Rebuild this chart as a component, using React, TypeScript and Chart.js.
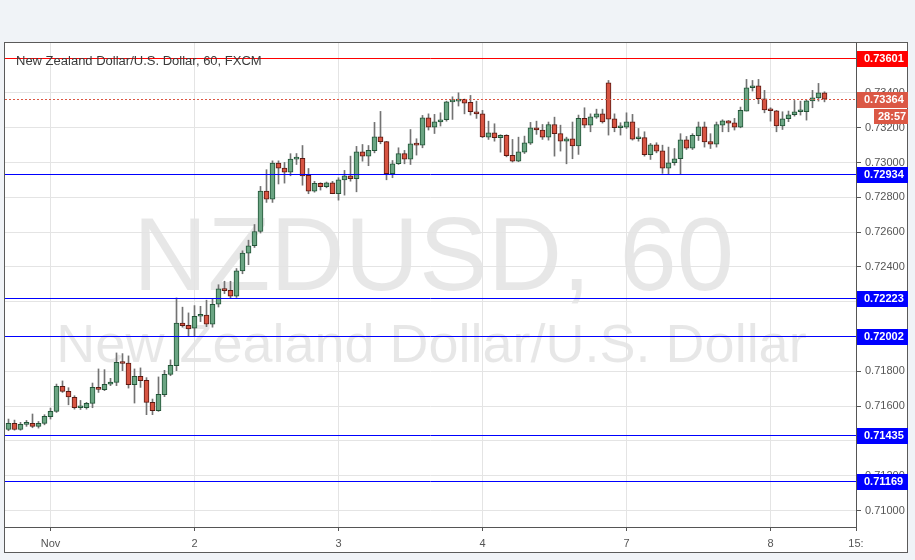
import React, { useEffect, useRef } from 'react';
import { Chart, registerables } from 'chart.js';

Chart.register(...registerables);

// ---- Data (hourly candles, NZDUSD 60, FXCM) ----
const opens = [
  0.71466, 0.71501, 0.71466, 0.71495, 0.71501, 0.71484, 0.71501, 0.71539, 0.71570, 0.71714,
  0.71685, 0.71651, 0.71591, 0.71591, 0.71616, 0.71708, 0.71695, 0.71726, 0.71737, 0.71852,
  0.71847, 0.71724, 0.71772, 0.71749, 0.71622, 0.71574, 0.71666, 0.71783, 0.71833, 0.72077,
  0.72065, 0.72048, 0.72117, 0.72124, 0.72071, 0.72186, 0.72272, 0.72266, 0.72232, 0.72378,
  0.72480, 0.72522, 0.72604, 0.72836, 0.72790, 0.72997, 0.72968, 0.72945, 0.73020, 0.73024,
  0.72926, 0.72836, 0.72880, 0.72861, 0.72884, 0.72821, 0.72901, 0.72924, 0.72907, 0.73062,
  0.73037, 0.73068, 0.73148, 0.73120, 0.72936, 0.72993, 0.73051, 0.73020, 0.73108, 0.73100,
  0.73257, 0.73204, 0.73234, 0.73246, 0.73349, 0.73353, 0.73363, 0.73346, 0.73292, 0.73280,
  0.73146, 0.73171, 0.73143, 0.73156, 0.73041, 0.73008, 0.73060, 0.73112, 0.73200, 0.73187,
  0.73146, 0.73219, 0.73166, 0.73123, 0.73137, 0.73095, 0.73254, 0.73215, 0.73261, 0.73280,
  0.73459, 0.73252, 0.73200, 0.73204, 0.73234, 0.73137, 0.73143, 0.73045, 0.73102, 0.73068,
  0.72968, 0.72999, 0.73022, 0.73131, 0.73083, 0.73154, 0.73206, 0.73120, 0.73106, 0.73215,
  0.73240, 0.73229, 0.73204, 0.73296, 0.73430, 0.73441, 0.73367, 0.73305, 0.73298, 0.73210,
  0.73252, 0.73275, 0.73292, 0.73292, 0.73355, 0.73372, 0.73401,
];
const highs = [
  0.71526, 0.71520, 0.71507, 0.71518, 0.71555, 0.71512, 0.71551, 0.71589, 0.71727, 0.71745,
  0.71706, 0.71660, 0.71633, 0.71622, 0.71733, 0.71814, 0.71810, 0.71760, 0.71906, 0.71902,
  0.71889, 0.71814, 0.71820, 0.71764, 0.71641, 0.71768, 0.71806, 0.71866, 0.72222, 0.72169,
  0.72136, 0.72178, 0.72174, 0.72209, 0.72216, 0.72298, 0.72318, 0.72318, 0.72391, 0.72493,
  0.72554, 0.72644, 0.72863, 0.72959, 0.73010, 0.73010, 0.73001, 0.73051, 0.73052, 0.73098,
  0.72966, 0.72892, 0.72884, 0.72888, 0.72892, 0.72913, 0.72955, 0.73037, 0.73093, 0.73104,
  0.73098, 0.73231, 0.73294, 0.73122, 0.73012, 0.73085, 0.73070, 0.73190, 0.73137, 0.73271,
  0.73280, 0.73277, 0.73286, 0.73353, 0.73378, 0.73401, 0.73365, 0.73386, 0.73353, 0.73300,
  0.73238, 0.73223, 0.73160, 0.73160, 0.73133, 0.73146, 0.73152, 0.73231, 0.73238, 0.73219,
  0.73233, 0.73261, 0.73215, 0.73146, 0.73233, 0.73273, 0.73315, 0.73280, 0.73307, 0.73307,
  0.73472, 0.73280, 0.73229, 0.73286, 0.73277, 0.73196, 0.73177, 0.73110, 0.73114, 0.73100,
  0.73089, 0.73081, 0.73166, 0.73150, 0.73166, 0.73233, 0.73233, 0.73166, 0.73233, 0.73246,
  0.73242, 0.73254, 0.73319, 0.73478, 0.73472, 0.73478, 0.73415, 0.73315, 0.73300, 0.73292,
  0.73296, 0.73357, 0.73353, 0.73359, 0.73415, 0.73455, 0.73407,
];
const lows = [
  0.71459, 0.71462, 0.71462, 0.71484, 0.71476, 0.71474, 0.71493, 0.71526, 0.71564, 0.71679,
  0.71608, 0.71583, 0.71581, 0.71583, 0.71591, 0.71679, 0.71689, 0.71718, 0.71718, 0.71804,
  0.71704, 0.71618, 0.71708, 0.71551, 0.71551, 0.71570, 0.71655, 0.71775, 0.71804, 0.72054,
  0.72002, 0.72002, 0.72086, 0.72057, 0.72054, 0.72170, 0.72247, 0.72220, 0.72225, 0.72361,
  0.72413, 0.72512, 0.72595, 0.72771, 0.72771, 0.72877, 0.72882, 0.72924, 0.72989, 0.72870,
  0.72821, 0.72830, 0.72842, 0.72855, 0.72821, 0.72784, 0.72813, 0.72893, 0.72832, 0.73008,
  0.72982, 0.73056, 0.73108, 0.72901, 0.72913, 0.72989, 0.72993, 0.72989, 0.73043, 0.73085,
  0.73187, 0.73167, 0.73210, 0.73238, 0.73248, 0.73325, 0.73280, 0.73273, 0.73254, 0.73143,
  0.73133, 0.73123, 0.73060, 0.73033, 0.73003, 0.73005, 0.73052, 0.73104, 0.73162, 0.73133,
  0.73129, 0.73037, 0.73066, 0.72993, 0.73022, 0.73047, 0.73200, 0.73177, 0.73254, 0.73227,
  0.73158, 0.73177, 0.73158, 0.73196, 0.73129, 0.73123, 0.73037, 0.73018, 0.73056, 0.72938,
  0.72932, 0.72985, 0.72932, 0.73075, 0.73075, 0.73127, 0.73089, 0.73081, 0.73089, 0.73177,
  0.73177, 0.73187, 0.73200, 0.73296, 0.73411, 0.73338, 0.73286, 0.73238, 0.73177, 0.73190,
  0.73235, 0.73267, 0.73273, 0.73244, 0.73315, 0.73353, 0.73349,
];
const closes = [
  0.71501, 0.71466, 0.71495, 0.71501, 0.71484, 0.71501, 0.71541, 0.71570, 0.71714, 0.71685,
  0.71653, 0.71591, 0.71595, 0.71616, 0.71708, 0.71697, 0.71726, 0.71739, 0.71852, 0.71845,
  0.71724, 0.71772, 0.71747, 0.71622, 0.71574, 0.71668, 0.71783, 0.71835, 0.72077, 0.72062,
  0.72044, 0.72117, 0.72124, 0.72071, 0.72186, 0.72274, 0.72264, 0.72232, 0.72378, 0.72480,
  0.72522, 0.72604, 0.72836, 0.72790, 0.72997, 0.72968, 0.72945, 0.73020, 0.73024, 0.72924,
  0.72836, 0.72880, 0.72861, 0.72884, 0.72821, 0.72901, 0.72924, 0.72907, 0.73062, 0.73037,
  0.73070, 0.73148, 0.73120, 0.72936, 0.72993, 0.73051, 0.73020, 0.73108, 0.73100, 0.73257,
  0.73204, 0.73234, 0.73246, 0.73349, 0.73353, 0.73363, 0.73342, 0.73292, 0.73280, 0.73148,
  0.73171, 0.73143, 0.73156, 0.73039, 0.73008, 0.73062, 0.73114, 0.73200, 0.73187, 0.73146,
  0.73219, 0.73166, 0.73123, 0.73137, 0.73095, 0.73254, 0.73215, 0.73263, 0.73280, 0.73234,
  0.73250, 0.73200, 0.73208, 0.73234, 0.73135, 0.73144, 0.73045, 0.73102, 0.73066, 0.72968,
  0.72999, 0.73022, 0.73131, 0.73083, 0.73156, 0.73206, 0.73118, 0.73106, 0.73219, 0.73240,
  0.73227, 0.73204, 0.73300, 0.73430, 0.73441, 0.73367, 0.73302, 0.73298, 0.73210, 0.73252,
  0.73275, 0.73292, 0.73294, 0.73355, 0.73372, 0.73401, 0.73364,
];

const xTickIdx = [7, 31, 55, 79, 103, 127];
const xTickLabels = ['Nov', '2', '3', '4', '7', '8'];
const xEndLabel = '15:';
const yTickValues = [0.710, 0.712, 0.714, 0.716, 0.718, 0.720, 0.722, 0.724, 0.726, 0.728, 0.730, 0.732, 0.734, 0.736];

const resistanceLevels = [0.73601];
const supportLevels = [0.72934, 0.72223, 0.72002, 0.71435, 0.71169];
const lastPrice = 0.73364;
const countdownText = '28:57';
const watermarkSymbol = 'NZDUSD, 60';
const watermarkName = 'New Zealand Dollar/U.S. Dollar';
const chartTitle = 'New Zealand Dollar/U.S. Dollar, 60, FXCM';

// ---- Styles ----
const X_MIN = -0.5833;
const X_MAX = 141.25;
const Y_MIN = 0.709056;
const Y_MAX = 0.736872;
const FONT = '"Liberation Sans", Arial, sans-serif';
const GREEN_FILL = '#6ba583';
const GREEN_EDGE = '#225437';
const RED_FILL = '#d75442';
const RED_EDGE = '#5b1a13';
const WICK = '#737373';
const BLUE = '#0000ff';
const RED = '#ff0000';
const LAST_COLOR = '#db5845';

const decorPlugin = {
  id: 'decor',
  beforeDraw(chart: any) {
    const { ctx, chartArea: a, width, height } = chart;
    ctx.save();
    ctx.fillStyle = '#f0f3f7';
    ctx.fillRect(0, 0, width, height);
    ctx.fillStyle = '#ffffff';
    ctx.fillRect(4, 42, 904, 511);
    ctx.strokeStyle = '#5a5a5a';
    ctx.lineWidth = 1;
    ctx.strokeRect(4.5, 42.5, 903, 510);
    // watermark
    const cx = (a.left + a.right) / 2 + 3;
    ctx.fillStyle = 'rgba(0,0,0,0.095)';
    ctx.textAlign = 'center';
    ctx.textBaseline = 'alphabetic';
    ctx.font = `103px ${FONT}`;
    ctx.fillText(watermarkSymbol, cx, a.top + 247);
    ctx.font = `54px ${FONT}`;
    ctx.fillText(watermarkName, cx - 2, a.top + 319);
    ctx.restore();
  },
  afterDatasetsDraw(chart: any) {
    const { ctx, chartArea: a, scales } = chart;
    const ys = scales.y;
    ctx.save();
    ctx.beginPath();
    ctx.rect(a.left, a.top, a.right - a.left, a.bottom - a.top);
    ctx.clip();
    ctx.lineWidth = 1;
    const hline = (v: number, color: string, dash: number[]) => {
      const y = Math.round(ys.getPixelForValue(v)) + 0.5;
      ctx.strokeStyle = color;
      ctx.setLineDash(dash);
      ctx.beginPath();
      ctx.moveTo(a.left, y);
      ctx.lineTo(a.right, y);
      ctx.stroke();
    };
    hline(lastPrice, LAST_COLOR, [2, 2]);
    resistanceLevels.forEach((v) => hline(v, RED, []));
    supportLevels.forEach((v) => hline(v, BLUE, []));
    ctx.restore();
  },
  afterDraw(chart: any) {
    const { ctx, chartArea: a, scales } = chart;
    const ys = scales.y;
    ctx.save();
    const tag = (v: number, text: string, color: string) => {
      const y = Math.round(ys.getPixelForValue(v));
      ctx.fillStyle = color;
      ctx.fillRect(a.right + 1, y - 7, 51, 16);
      ctx.fillStyle = '#ffffff';
      ctx.font = `bold 11px ${FONT}`;
      ctx.textAlign = 'left';
      ctx.textBaseline = 'middle';
      ctx.fillText(text, a.right + 8, y + 1);
      return y;
    };
    resistanceLevels.forEach((v) => tag(v, v.toFixed(5), RED));
    supportLevels.forEach((v) => tag(v, v.toFixed(5), BLUE));
    const ly = tag(lastPrice, lastPrice.toFixed(5), LAST_COLOR);
    ctx.fillStyle = LAST_COLOR;
    ctx.fillRect(a.right + 18, ly + 10, 34, 15);
    ctx.fillStyle = '#ffffff';
    ctx.font = `bold 11px ${FONT}`;
    ctx.textAlign = 'left';
    ctx.textBaseline = 'middle';
    ctx.fillText(countdownText, a.right + 22, ly + 18);
    // title
    ctx.fillStyle = '#3c3c3c';
    ctx.font = `13px ${FONT}`;
    ctx.textBaseline = 'alphabetic';
    ctx.fillText(chartTitle, a.left + 11, a.top + 22);
    ctx.restore();
  },
};

export default function App() {
  const ref = useRef<HTMLCanvasElement | null>(null);
  useEffect(() => {
    if (!ref.current) return;
    const idx = opens.map((_, i) => i);
    const up = idx.map((i) => closes[i] >= opens[i]);
    const chart = new Chart(ref.current, {
      type: 'bar',
      data: {
        datasets: [
          {
            label: 'body',
            order: 0,
            data: idx.map((i) => ({ x: i, y: [opens[i], closes[i]] })) as any,
            backgroundColor: up.map((u) => (u ? GREEN_FILL : RED_FILL)),
            borderColor: up.map((u) => (u ? GREEN_EDGE : RED_EDGE)),
            borderWidth: 1,
            borderSkipped: false,
            barThickness: 5,
            minBarLength: 2,
            grouped: false,
          } as any,
          {
            label: 'wick',
            order: 1,
            data: idx.map((i) => ({ x: i, y: [lows[i], highs[i]] })) as any,
            backgroundColor: WICK,
            borderWidth: 0,
            barThickness: 1,
            grouped: false,
          } as any,
        ],
      },
      options: {
        responsive: false,
        devicePixelRatio: 1,
        animation: false,
        events: [],
        layout: { padding: { left: 5, top: 43, right: 7, bottom: 7 } },
        plugins: { legend: { display: false }, tooltip: { enabled: false } },
        scales: {
          x: {
            type: 'linear',
            min: X_MIN,
            max: X_MAX,
            offset: false,
            grid: { offset: false, color: '#e4e4e4', tickColor: '#555555', tickLength: 4, drawTicks: true },
            border: { display: true, color: '#555555', width: 1 },
            ticks: {
              autoSkip: false,
              maxRotation: 0,
              padding: 6,
              color: '#555555',
              font: { family: FONT, size: 11 },
              callback: (v: any) => {
                const k = xTickIdx.indexOf(Number(v));
                return k >= 0 ? xTickLabels[k] : xEndLabel;
              },
            },
            afterBuildTicks: (s: any) => {
              s.ticks = [...xTickIdx.map((v) => ({ value: v })), { value: X_MAX }];
            },
            afterFit: (s: any) => {
              s.height = 26;
            },
          } as any,
          y: {
            type: 'linear',
            position: 'right',
            min: Y_MIN,
            max: Y_MAX,
            grid: { color: '#e4e4e4', tickColor: '#555555', tickLength: 5, drawTicks: true },
            border: { display: true, color: '#555555', width: 1 },
            ticks: {
              padding: 4,
              color: '#555555',
              font: { family: FONT, size: 11 },
              callback: (v: any) => Number(v).toFixed(5),
            },
            afterBuildTicks: (s: any) => {
              s.ticks = yTickValues.map((v) => ({ value: v }));
            },
            afterFit: (s: any) => {
              s.width = 52;
            },
          } as any,
        },
      },
      plugins: [decorPlugin],
    });
    return () => chart.destroy();
  }, []);
  return (
    <div style={{ position: 'fixed', left: 0, top: 0, width: 915, height: 560 }}>
      <canvas ref={ref} width={915} height={560} style={{ display: 'block', width: 915, height: 560 }} />
    </div>
  );
}
